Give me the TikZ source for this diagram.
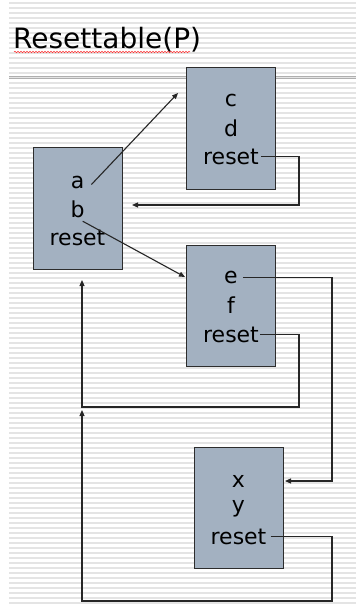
\documentclass[tikz,border=0pt]{standalone}
\usepackage{fontspec}
\setmainfont{DejaVu Sans}
\usetikzlibrary{arrows.meta,decorations.pathmorphing}
\definecolor{boxfill}{RGB}{163,177,193}
\definecolor{boxline}{RGB}{45,45,45}
\definecolor{stripegray}{RGB}{228,228,228}
\definecolor{rulegray}{RGB}{175,175,175}

\tikzset{
  blk/.style={draw=boxline, fill=boxfill, line width=1pt,
              minimum width=89pt, minimum height=121pt, inner sep=0pt},
  txt/.style={font=\fontsize{22}{26}\selectfont, inner sep=1pt},
  wire/.style={draw=black!85, line width=1.1pt},
  sig/.style={wire, -{Triangle[length=6pt,width=5pt]}},
}

\begin{document}
\begin{tikzpicture}[x=1pt, y=-1pt, >=Stealth]
  \useasboundingbox (0,0) rectangle (356,604);

  % --- striped background ---
  \foreach \yy in {3,8,...,603}
    \draw[stripegray, line width=1.3pt] (9,\yy) -- (356,\yy);
  \draw[rulegray, line width=0.9pt] (9,76) -- (356,76);
  \draw[rulegray, line width=0.9pt] (9,78.5) -- (356,78.5);

  % --- title ---
  \node[anchor=base west, inner sep=0pt, font=\fontsize{28}{32}\selectfont]
    (title) at (13,49) {Resettable(P)};
  \draw[red!80, line width=0.5pt, decorate,
        decoration={snake, amplitude=0.8pt, segment length=3pt}]
    (14,52) -- (190,52);

  % --- blocks ---
  \node[blk] (blkab) at (77.5,208.5) {};
  \node[blk] (blkcd) at (231,128.5) {};
  \node[blk] (blkef) at (231,305.5) {};
  \node[blk] (blkxy) at (238.5,507.5) {};

  % --- contents ---
  \node[txt] (ab-b) at ([yshift=-1pt]blkab.center) {b};
  \node[txt] (ab-a) at ([yshift=27pt]ab-b.center) {a};
  \node[txt] (ab-r) at ([yshift=-28pt]ab-b.center) {reset};

  \node[txt] (cd-d) at (blkcd.center) {d};
  \node[txt] (cd-c) at ([yshift=28pt]cd-d.center) {c};
  \node[txt] (cd-r) at ([yshift=-28pt]cd-d.center) {reset};

  \node[txt] (ef-f) at (blkef.center) {f};
  \node[txt] (ef-e) at ([yshift=28pt]ef-f.center) {e};
  \node[txt] (ef-r) at ([yshift=-29pt]ef-f.center) {reset};

  \node[txt] (xy-y) at ([yshift=-1pt]blkxy.center) {y};
  \node[txt] (xy-x) at ([yshift=27pt]xy-y.center) {x};
  \node[txt] (xy-r) at ([yshift=-28pt]xy-y.center) {reset};

  % --- free ends ---
  \coordinate (tocd) at (178,93);
  \coordinate (back) at (132,205);
  \coordinate (toef) at (185,277);
  \coordinate (toxy) at (285,481);
  \coordinate (upab) at (82,280);
  \coordinate (upmid) at (82,410);

  % --- connectors ---
  \draw[sig] ([xshift=6pt,yshift=-2pt]ab-a.east) -- (tocd);
  \draw[sig] ([xshift=-3pt,yshift=-2pt]ab-b.south east) -- (toef);
  \draw[sig] ([xshift=1pt]cd-r.east) -| (299,205) -- (back);
  \draw[sig] ([xshift=4pt]ef-e.east) -| (332,481) -- (toxy);
  \draw[sig] (ef-r.east) -| (299,407) -| (upab);
  \draw[sig] ([xshift=3pt]xy-r.east) -| (332,601) -| (upmid);

\end{tikzpicture}
\end{document}
